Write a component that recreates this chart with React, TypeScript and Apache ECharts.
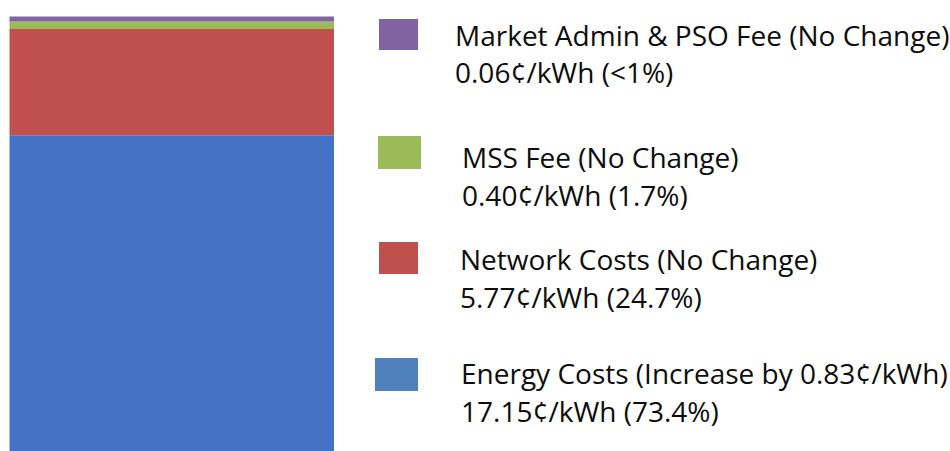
import React, { useEffect, useRef } from "react";
import * as echarts from "echarts";

const categories = ["Tariff"];
const seriesNames = ["Energy Costs", "Network Costs", "MSS Fee", "Market Admin & PSO Fee"];
const seriesValues = [17.15, 5.77, 0.4, 0.06];
const barColors = ["#4472C4", "#C0504D", "#9BBB59", "#8064A2"];
const legendColors = ["#4F81BD", "#C0504D", "#9BBB59", "#8064A2"];
const legendLine1 = [
  "Energy Costs (Increase by 0.83¢/kWh)",
  "Network Costs (No Change)",
  "MSS Fee (No Change)",
  "Market Admin & PSO Fee (No Change)",
];
const legendLine2 = [
  "17.15¢/kWh (73.4%)",
  "5.77¢/kWh (24.7%)",
  "0.40¢/kWh (1.7%)",
  "0.06¢/kWh (<1%)",
];

// layout of legend entries (pixels)
const legendBoxes = [
  { x: 375, y: 358, w: 43, h: 33, tx: 461, ty1: 373, ty2: 411 },
  { x: 379, y: 242, w: 39, h: 32, tx: 460, ty1: 259, ty2: 297 },
  { x: 378, y: 136, w: 43, h: 33, tx: 462, ty1: 157, ty2: 195 },
  { x: 379, y: 19, w: 39, h: 31, tx: 455, ty1: 34.5, ty2: 71.5 },
];

const FONT = "'Open Sans'";
const FONT_SIZE = 28;

export default function App() {
  const ref = useRef<HTMLDivElement>(null);
  useEffect(() => {
    if (!ref.current) return;
    const chart = echarts.init(ref.current, undefined, { renderer: "svg" });
    const graphics: any[] = [];
    legendBoxes.forEach((b, i) => {
      graphics.push({
        type: "rect",
        shape: { x: b.x, y: b.y, width: b.w, height: b.h },
        style: { fill: legendColors[i] },
      });
      graphics.push({
        type: "text",
        x: b.tx,
        y: b.ty1,
        style: {
          text: legendLine1[i],
          fill: "#0d0d0d",
          font: `${FONT_SIZE}px ${FONT}`,
          verticalAlign: "middle",
        },
      });
      graphics.push({
        type: "text",
        x: b.tx,
        y: b.ty2,
        style: {
          text: legendLine2[i],
          fill: "#0d0d0d",
          font: `${FONT_SIZE}px ${FONT}`,
          verticalAlign: "middle",
        },
      });
    });
    chart.setOption({
      animation: false,
      grid: { left: 9.5, top: 9, width: 324.5, height: 442 },
      xAxis: { type: "category", data: categories, show: false },
      yAxis: { type: "value", min: 0, max: 24, show: false },
      series: seriesNames.map((name, i) => ({
        name,
        type: "bar",
        stack: "total",
        barWidth: "100%",
        barMinHeight: i === 3 ? 5 : 0,
        data: [seriesValues[i]],
        itemStyle: { color: barColors[i] },
      })),
      graphic: graphics,
    });
    return () => chart.dispose();
  }, []);
  return (
    <div
      ref={ref}
      style={{ position: "fixed", left: 0, top: 0, width: 950, height: 451, background: "#fff" }}
    />
  );
}
